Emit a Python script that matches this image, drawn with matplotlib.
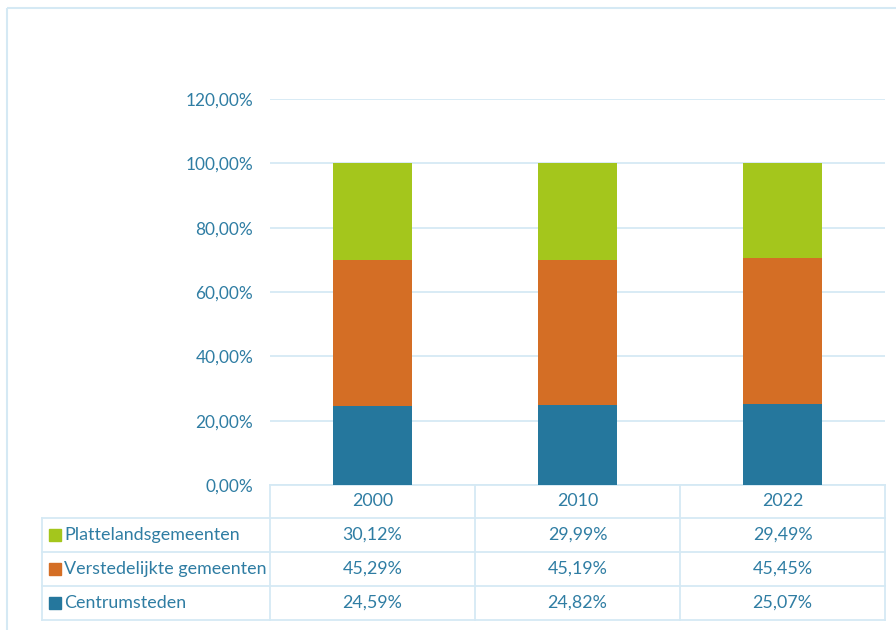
import matplotlib
matplotlib.use("Agg")
import matplotlib.pyplot as plt
from matplotlib.patches import Rectangle

years = ["2000", "2010", "2022"]
series = ["Plattelandsgemeenten", "Verstedelijkte gemeenten", "Centrumsteden"]
centrumsteden = [24.59, 24.82, 25.07]
verstedelijkt = [45.29, 45.19, 45.45]
platteland = [30.12, 29.99, 29.49]
yticks = [0, 20, 40, 60, 80, 100, 120]

c_green = "#A4C61C"
c_orange = "#D46E25"
c_blue = "#25779D"
txt = "#2F7DA3"
grid = "#D5E9F4"

plt.rcParams['font.family'] = ['Lato', 'DejaVu Sans']

W, H = 896, 630
fig = plt.figure(figsize=(W/100, H/100), dpi=100)

# overlay for frame and table
ov = fig.add_axes([0, 0, 1, 1])
ov.set_xlim(0, W)
ov.set_ylim(H, 0)
ov.axis("off")

L, R, T, B = 270, 885, 99, 485
ax = fig.add_axes([L/W, 1-B/H, (R-L)/W, (B-T)/H])
x = list(range(len(years)))
bw = 0.39
ax.bar(x, centrumsteden, bw, color=c_blue, zorder=3)
ax.bar(x, verstedelijkt, bw, bottom=centrumsteden, color=c_orange, zorder=3)
bot2 = [a + b for a, b in zip(centrumsteden, verstedelijkt)]
ax.bar(x, platteland, bw, bottom=bot2, color=c_green, zorder=3)
ax.set_xlim(-0.5, len(years) - 0.5)
ax.set_ylim(0, 120)
ax.set_yticks(yticks)
ax.set_yticklabels([f"{v:.2f}".replace(".", ",") + "%" for v in yticks])
ax.tick_params(axis="y", length=0, pad=12, labelcolor=txt, labelsize=12.4)
ax.set_xticks([])
for s in ax.spines.values():
    s.set_visible(False)
ax.grid(axis="y", color=grid, linewidth=1.3, zorder=0)
ax.set_facecolor("none")

# outer frame
ov.add_patch(Rectangle((7, 8), 1000, 700, fill=False, edgecolor=grid, linewidth=1.5))

# table
col_edges = [270, 475, 680, 885]
row_edges = [485, 518, 552, 586, 620]
tl = 42
lw = 1.3
ov.plot([L, R], [row_edges[0]]*2, color=grid, lw=lw)
for y in row_edges[1:]:
    ov.plot([tl, R], [y, y], color=grid, lw=lw)
ov.plot([tl, tl], [row_edges[1], row_edges[-1]], color=grid, lw=lw)
for xe in col_edges:
    ov.plot([xe, xe], [row_edges[0], row_edges[-1]], color=grid, lw=lw)

fs = 12.9
for i, yr in enumerate(years):
    cx = (col_edges[i] + col_edges[i+1]) / 2
    ov.text(cx, (row_edges[0]+row_edges[1])/2, yr, ha="center", va="center", color=txt, fontsize=fs)

rows = [(series[0], platteland, c_green), (series[1], verstedelijkt, c_orange), (series[2], centrumsteden, c_blue)]
for r, (name, vals, col) in enumerate(rows):
    cy = (row_edges[r+1] + row_edges[r+2]) / 2
    ov.add_patch(Rectangle((49, cy-6), 12, 12, color=col))
    ov.text(64, cy, name, ha="left", va="center", color=txt, fontsize=fs)
    for i, v in enumerate(vals):
        cx = (col_edges[i] + col_edges[i+1]) / 2
        ov.text(cx, cy, f"{v:.2f}".replace(".", ",") + "%", ha="center", va="center", color=txt, fontsize=fs)

fig.savefig("out.png", dpi=100)
